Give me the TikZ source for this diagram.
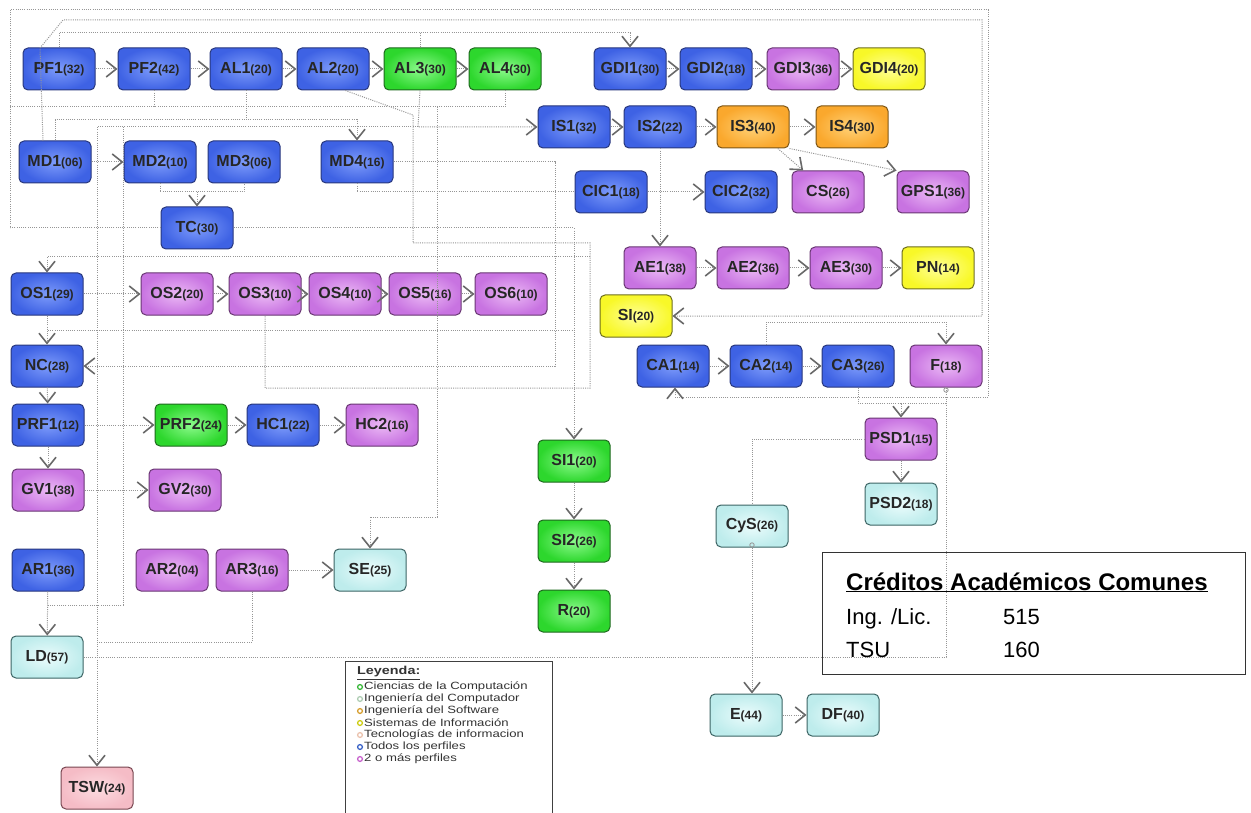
\documentclass[tikz,border=0pt]{standalone}
\usepackage{fontspec}
\setmainfont{Liberation Sans}
\newfontfamily\legfont[FakeStretch=1.25]{Liberation Sans}
\usetikzlibrary{arrows.meta}

\definecolor{bluI}{RGB}{125,155,250}
\definecolor{bluO}{RGB}{62,98,228}
\definecolor{bluD}{RGB}{40,55,125}
\definecolor{grnI}{RGB}{140,250,140}
\definecolor{grnO}{RGB}{45,215,45}
\definecolor{grnD}{RGB}{30,105,30}
\definecolor{prpI}{RGB}{235,185,245}
\definecolor{prpO}{RGB}{200,115,225}
\definecolor{prpD}{RGB}{105,55,115}
\definecolor{ylwI}{RGB}{255,255,150}
\definecolor{ylwO}{RGB}{248,248,40}
\definecolor{ylwD}{RGB}{110,110,30}
\definecolor{orgI}{RGB}{255,210,120}
\definecolor{orgO}{RGB}{250,168,45}
\definecolor{orgD}{RGB}{125,85,20}
\definecolor{cyaI}{RGB}{235,252,252}
\definecolor{cyaO}{RGB}{190,236,236}
\definecolor{cyaD}{RGB}{60,100,100}
\definecolor{pnkI}{RGB}{252,220,225}
\definecolor{pnkO}{RGB}{245,188,198}
\definecolor{pnkD}{RGB}{120,70,80}
\definecolor{lnk}{RGB}{150,150,150}
\definecolor{tipc}{RGB}{105,105,105}

\newcommand\crs[2]{{\fontsize{16}{18}\selectfont\bfseries #1}{\fontsize{12}{14}\selectfont\bfseries(#2)}}

\begin{document}
\begin{tikzpicture}[x=1pt,y=-1pt,
  box/.style={rectangle, rounded corners=5pt, minimum width=72pt, minimum height=42pt, inner sep=1pt, line width=1pt, text=black!85},
  bl/.style={box, draw=bluD, inner color=bluI, outer color=bluO},
  gr/.style={box, draw=grnD, inner color=grnI, outer color=grnO},
  pr/.style={box, draw=prpD, inner color=prpI, outer color=prpO},
  yl/.style={box, draw=ylwD, inner color=ylwI, outer color=ylwO},
  og/.style={box, draw=orgD, inner color=orgI, outer color=orgO},
  cy/.style={box, draw=cyaD, inner color=cyaI, outer color=cyaO},
  pk/.style={box, draw=pnkD, inner color=pnkI, outer color=pnkO},
  conn/.style={draw=lnk, line width=1pt, dash pattern=on 1pt off 1.2pt},
  arr/.style={conn, -{Straight Barb[length=10pt, width=16pt, line width=1.6pt, color=tipc]}},
  legtxt/.style={anchor=west, inner sep=0pt, text=black!80, font=\legfont\fontsize{10.5}{11}\selectfont},
  legdot/.style={line width=1.3pt},
  credtxt/.style={anchor=base west, inner sep=0pt, font=\fontsize{22}{24}\selectfont}
]
\useasboundingbox (0,0) rectangle (1251,813);
\fill[white] (0,0) rectangle (1251,813);

\coordinate (c10) at (10,228);
\coordinate (cA) at (675,397);

% ---------- nodes ----------
\node[bl] (PF1) at (59,69) {\crs{PF1}{32}};
\node[bl] (PF2) at (154,69) {\crs{PF2}{42}};
\node[bl] (AL1) at (246,69) {\crs{AL1}{20}};
\node[bl] (AL2) at (333,69) {\crs{AL2}{20}};
\node[gr] (AL3) at (420,69) {\crs{AL3}{30}};
\node[gr] (AL4) at (505,69) {\crs{AL4}{30}};
\node[bl] (GDI1) at (630,69) {\crs{GDI1}{30}};
\node[bl] (GDI2) at (716,69) {\crs{GDI2}{18}};
\node[pr] (GDI3) at (803,69) {\crs{GDI3}{36}};
\node[yl] (GDI4) at (889,69) {\crs{GDI4}{20}};

\node[bl] (IS1) at (574,127) {\crs{IS1}{32}};
\node[bl] (IS2) at (660,127) {\crs{IS2}{22}};
\node[og] (IS3) at (753,127) {\crs{IS3}{40}};
\node[og] (IS4) at (852,127) {\crs{IS4}{30}};

\node[bl] (MD1) at (55,162) {\crs{MD1}{06}};
\node[bl] (MD2) at (160,162) {\crs{MD2}{10}};
\node[bl] (MD3) at (244,162) {\crs{MD3}{06}};
\node[bl] (MD4) at (357,162) {\crs{MD4}{16}};
\node[bl] (TC) at (197,228) {\crs{TC}{30}};

\node[bl] (CIC1) at (611,192) {\crs{CIC1}{18}};
\node[bl] (CIC2) at (741,192) {\crs{CIC2}{32}};
\node[pr] (CS) at (828,192) {\crs{CS}{26}};
\node[pr] (GPS1) at (933,192) {\crs{GPS1}{36}};

\node[pr] (AE1) at (660,268) {\crs{AE1}{38}};
\node[pr] (AE2) at (753,268) {\crs{AE2}{36}};
\node[pr] (AE3) at (846,268) {\crs{AE3}{30}};
\node[yl] (PN) at (938,268) {\crs{PN}{14}};
\node[yl] (SI) at (636,316) {\crs{SI}{20}};

\node[bl] (CA1) at (673,366) {\crs{CA1}{14}};
\node[bl] (CA2) at (766,366) {\crs{CA2}{14}};
\node[bl] (CA3) at (858,366) {\crs{CA3}{26}};
\node[pr] (F) at (946,366) {\crs{F}{18}};
\node[pr] (PSD1) at (901,439) {\crs{PSD1}{15}};
\node[cy] (PSD2) at (901,504) {\crs{PSD2}{18}};
\node[cy] (CyS) at (752,526) {\crs{CyS}{26}};
\node[cy] (E) at (746,715) {\crs{E}{44}};
\node[cy] (DF) at (843,715) {\crs{DF}{40}};

\node[bl] (OS1) at (47,294) {\crs{OS1}{29}};
\node[pr] (OS2) at (177,294) {\crs{OS2}{20}};
\node[pr] (OS3) at (265,294) {\crs{OS3}{10}};
\node[pr] (OS4) at (345,294) {\crs{OS4}{10}};
\node[pr] (OS5) at (425,294) {\crs{OS5}{16}};
\node[pr] (OS6) at (511,294) {\crs{OS6}{10}};
\node[bl] (NC) at (47,366) {\crs{NC}{28}};
\node[bl] (PRF1) at (48,425) {\crs{PRF1}{12}};
\node[gr] (PRF2) at (191,425) {\crs{PRF2}{24}};
\node[bl] (HC1) at (283,425) {\crs{HC1}{22}};
\node[pr] (HC2) at (382,425) {\crs{HC2}{16}};
\node[pr] (GV1) at (48,490) {\crs{GV1}{38}};
\node[pr] (GV2) at (185,490) {\crs{GV2}{30}};
\node[bl] (AR1) at (48,570) {\crs{AR1}{36}};
\node[pr] (AR2) at (172,570) {\crs{AR2}{04}};
\node[pr] (AR3) at (252,570) {\crs{AR3}{16}};
\node[cy] (SE) at (370,570) {\crs{SE}{25}};
\node[cy] (LD) at (47,657) {\crs{LD}{57}};
\node[pk] (TSW) at (97,788) {\crs{TSW}{24}};

\node[gr] (SI1) at (574,461) {\crs{SI1}{20}};
\node[gr] (SI2) at (574,541) {\crs{SI2}{26}};
\node[gr] (R) at (574,611) {\crs{R}{20}};

% ---------- routing connectors ----------
\draw[arr] (TC.west) -- (c10) -- (10,10) -- (988,10) -- (988,397) -- (cA) -- (cA |- CA1.south);
\draw[arr] ([xshift=-12pt]MD1.north) -- (40,48) -- (63,20) -- (982,20) -- (982,316) -- (SI.east);
\draw[arr] (PF1.north) -- (PF1.north |- 0,33) -- (GDI1.north |- 0,33) -- (GDI1.north);
\draw[conn] (AL3.north) -- (AL3.north |- 0,33);
\draw[conn] (AL4.south) -- (AL4.south |- 0,107) -- (10,107);
\draw[conn] (PF2.south) -- (PF2.south |- 0,107);
\draw[conn] (AL1.south) -- (AL1.south |- 0,120) -- (55,120) -- (MD1.north);
\draw[arr] (AL1.south |- 0,120) -- (MD4.north |- 0,120) -- (MD4.north);
\draw[conn] (MD2.south) -- (MD2.south |- 0,192) -- (MD3.south |- 0,192) -- (MD3.south);
\draw[arr] (TC.north |- 0,192) -- (TC.north);
\draw[arr] (MD4.east) -- (555,162) -- (555,366) -- (NC.east);
\draw[conn] (MD4.south) -- (MD4.south |- 0,192) -- (CIC1.west);
\draw[arr] (AL3.south) -- (418,127) -- (IS1.west);
\draw[arr] (418,127) -- (97,127) -- (TSW.north);
\draw[conn] (123,127) -- (123,605) -- (48,605);
\draw[conn] (AL2.-60) -- (413,115) -- (413,243) -- (590,243) -- (590,388) -- (265,388) -- (OS3.south);
\draw[arr] (590,257) -- (OS1.north |- 0,257) -- (OS1.north);
\draw[conn] (48,330) -- (573,330);
\draw[arr] (TC.east) -- (SI1.north |- 0,228) -- (SI1.north);
\draw[arr] (437,107) -- (437,517) -- (SE.north |- 0,517) -- (SE.north);
\draw[conn] (AR3.south) -- (AR3.south |- 0,642) -- (97,642);
\draw[conn] (LD.east) -- (LD.east -| F.south) -- (F.south);
\draw[arr] (CA2.north) -- (CA2.north |- 0,322) -- (F.north |- 0,322) -- (F.north);
\draw[arr] (CA3.south) -- (CA3.south |- 0,403) -- (PSD1.north |- 0,403) -- (PSD1.north);
\draw[conn] (PSD1.north |- 0,403) -- (F.south |- 0,403);
\draw[conn] (PSD1.west) -- (CyS.north |- PSD1.west) -- (CyS.north);
\draw[lnk, line width=0.8pt] ([yshift=-2.5pt]F.south) circle (2.2pt);
\draw[lnk, line width=0.8pt] ([yshift=2.5pt]CyS.south) circle (2.2pt);

% ---------- direct arrows ----------
\draw[arr] (PF1) -- (PF2);
\draw[arr] (PF2) -- (AL1);
\draw[arr] (AL1) -- (AL2);
\draw[arr] (AL2) -- (AL3);
\draw[arr] (AL3) -- (AL4);
\draw[arr] (GDI1) -- (GDI2);
\draw[arr] (GDI2) -- (GDI3);
\draw[arr] (GDI3) -- (GDI4);
\draw[arr] (IS1) -- (IS2);
\draw[arr] (IS2) -- (IS3);
\draw[arr] (IS3) -- (IS4);
\draw[arr] (IS3) -- (CS);
\draw[arr] (IS3.south east) -- (GPS1.north west);
\draw[arr] (IS2) -- (AE1);
\draw[arr] (CIC1) -- (CIC2);
\draw[arr] (MD1) -- (MD2);
\draw[arr] (AE1) -- (AE2);
\draw[arr] (AE2) -- (AE3);
\draw[arr] (AE3) -- (PN);
\draw[arr] (CA1) -- (CA2);
\draw[arr] (CA2) -- (CA3);
\draw[arr] (PSD1) -- (PSD2);
\draw[arr] (CyS.south) -- (CyS.south |- E.north);
\draw[arr] (E) -- (DF);
\draw[arr] (OS1) -- (OS2);
\draw[arr] (OS2) -- (OS3);
\draw[arr] (OS3) -- (OS4);
\draw[arr] (OS4) -- (OS5);
\draw[arr] (OS5) -- (OS6);
\draw[arr] (OS1) -- (NC);
\draw[arr] (NC) -- (PRF1);
\draw[arr] (PRF1) -- (GV1);
\draw[arr] (PRF1) -- (PRF2);
\draw[arr] (PRF2) -- (HC1);
\draw[arr] (HC1) -- (HC2);
\draw[arr] (GV1) -- (GV2);
\draw[arr] (AR3) -- (SE);
\draw[arr] (AR1) -- (LD);
\draw[arr] (SI1) -- (SI2);
\draw[arr] (SI2) -- (R);

% ---------- legend ----------
\node[draw=black!75, line width=1pt, fill=white, anchor=north west, minimum width=207pt, minimum height=158pt, inner sep=0pt] (leg) at (345,661) {};
\node[legtxt, font=\legfont\fontsize{11.5}{12}\selectfont\bfseries] (legT) at (357,673) {\underline{Leyenda:}};
\node[legtxt] (lg1) at (364,687) {Ciencias de la Computación};
\node[legtxt] (lg2) at (364,699) {Ingeniería del Computador};
\node[legtxt] (lg3) at (364,711) {Ingeniería del Software};
\node[legtxt] (lg4) at (364,723) {Sistemas de Información};
\node[legtxt] (lg5) at (364,735) {Tecnologías de informacion};
\node[legtxt] (lg6) at (364,747) {Todos los perfiles};
\node[legtxt] (lg7) at (364,759) {2 o más perfiles};
\draw[legdot, draw={rgb,255:red,60;green,185;blue,60}] (lg1.west) ++(-4,0) circle (2.4pt);
\draw[legdot, draw={rgb,255:red,175;green,205;blue,180}] (lg2.west) ++(-4,0) circle (2.4pt);
\draw[legdot, draw={rgb,255:red,215;green,160;blue,50}] (lg3.west) ++(-4,0) circle (2.4pt);
\draw[legdot, draw={rgb,255:red,205;green,205;blue,20}] (lg4.west) ++(-4,0) circle (2.4pt);
\draw[legdot, draw={rgb,255:red,235;green,195;blue,175}] (lg5.west) ++(-4,0) circle (2.4pt);
\draw[legdot, draw={rgb,255:red,60;green,100;blue,200}] (lg6.west) ++(-4,0) circle (2.4pt);
\draw[legdot, draw={rgb,255:red,200;green,100;blue,205}] (lg7.west) ++(-4,0) circle (2.4pt);

% ---------- credits box ----------
\node[draw=black!80, line width=1.2pt, anchor=north west, minimum width=423pt, minimum height=122pt, inner sep=0pt] (cred) at (822,552) {};
\node[credtxt, font=\fontsize{24}{26}\selectfont\bfseries] (credT) at (846,590) {\underline{Créditos Académicos Comunes}};
\node[credtxt] (ing) at (846,624) {Ing. /Lic.};
\node[credtxt] (n515) at (1003,624) {515};
\node[credtxt] (tsu) at (846,657) {TSU};
\node[credtxt] (n160) at (1003,657) {160};
\end{tikzpicture}
\end{document}
